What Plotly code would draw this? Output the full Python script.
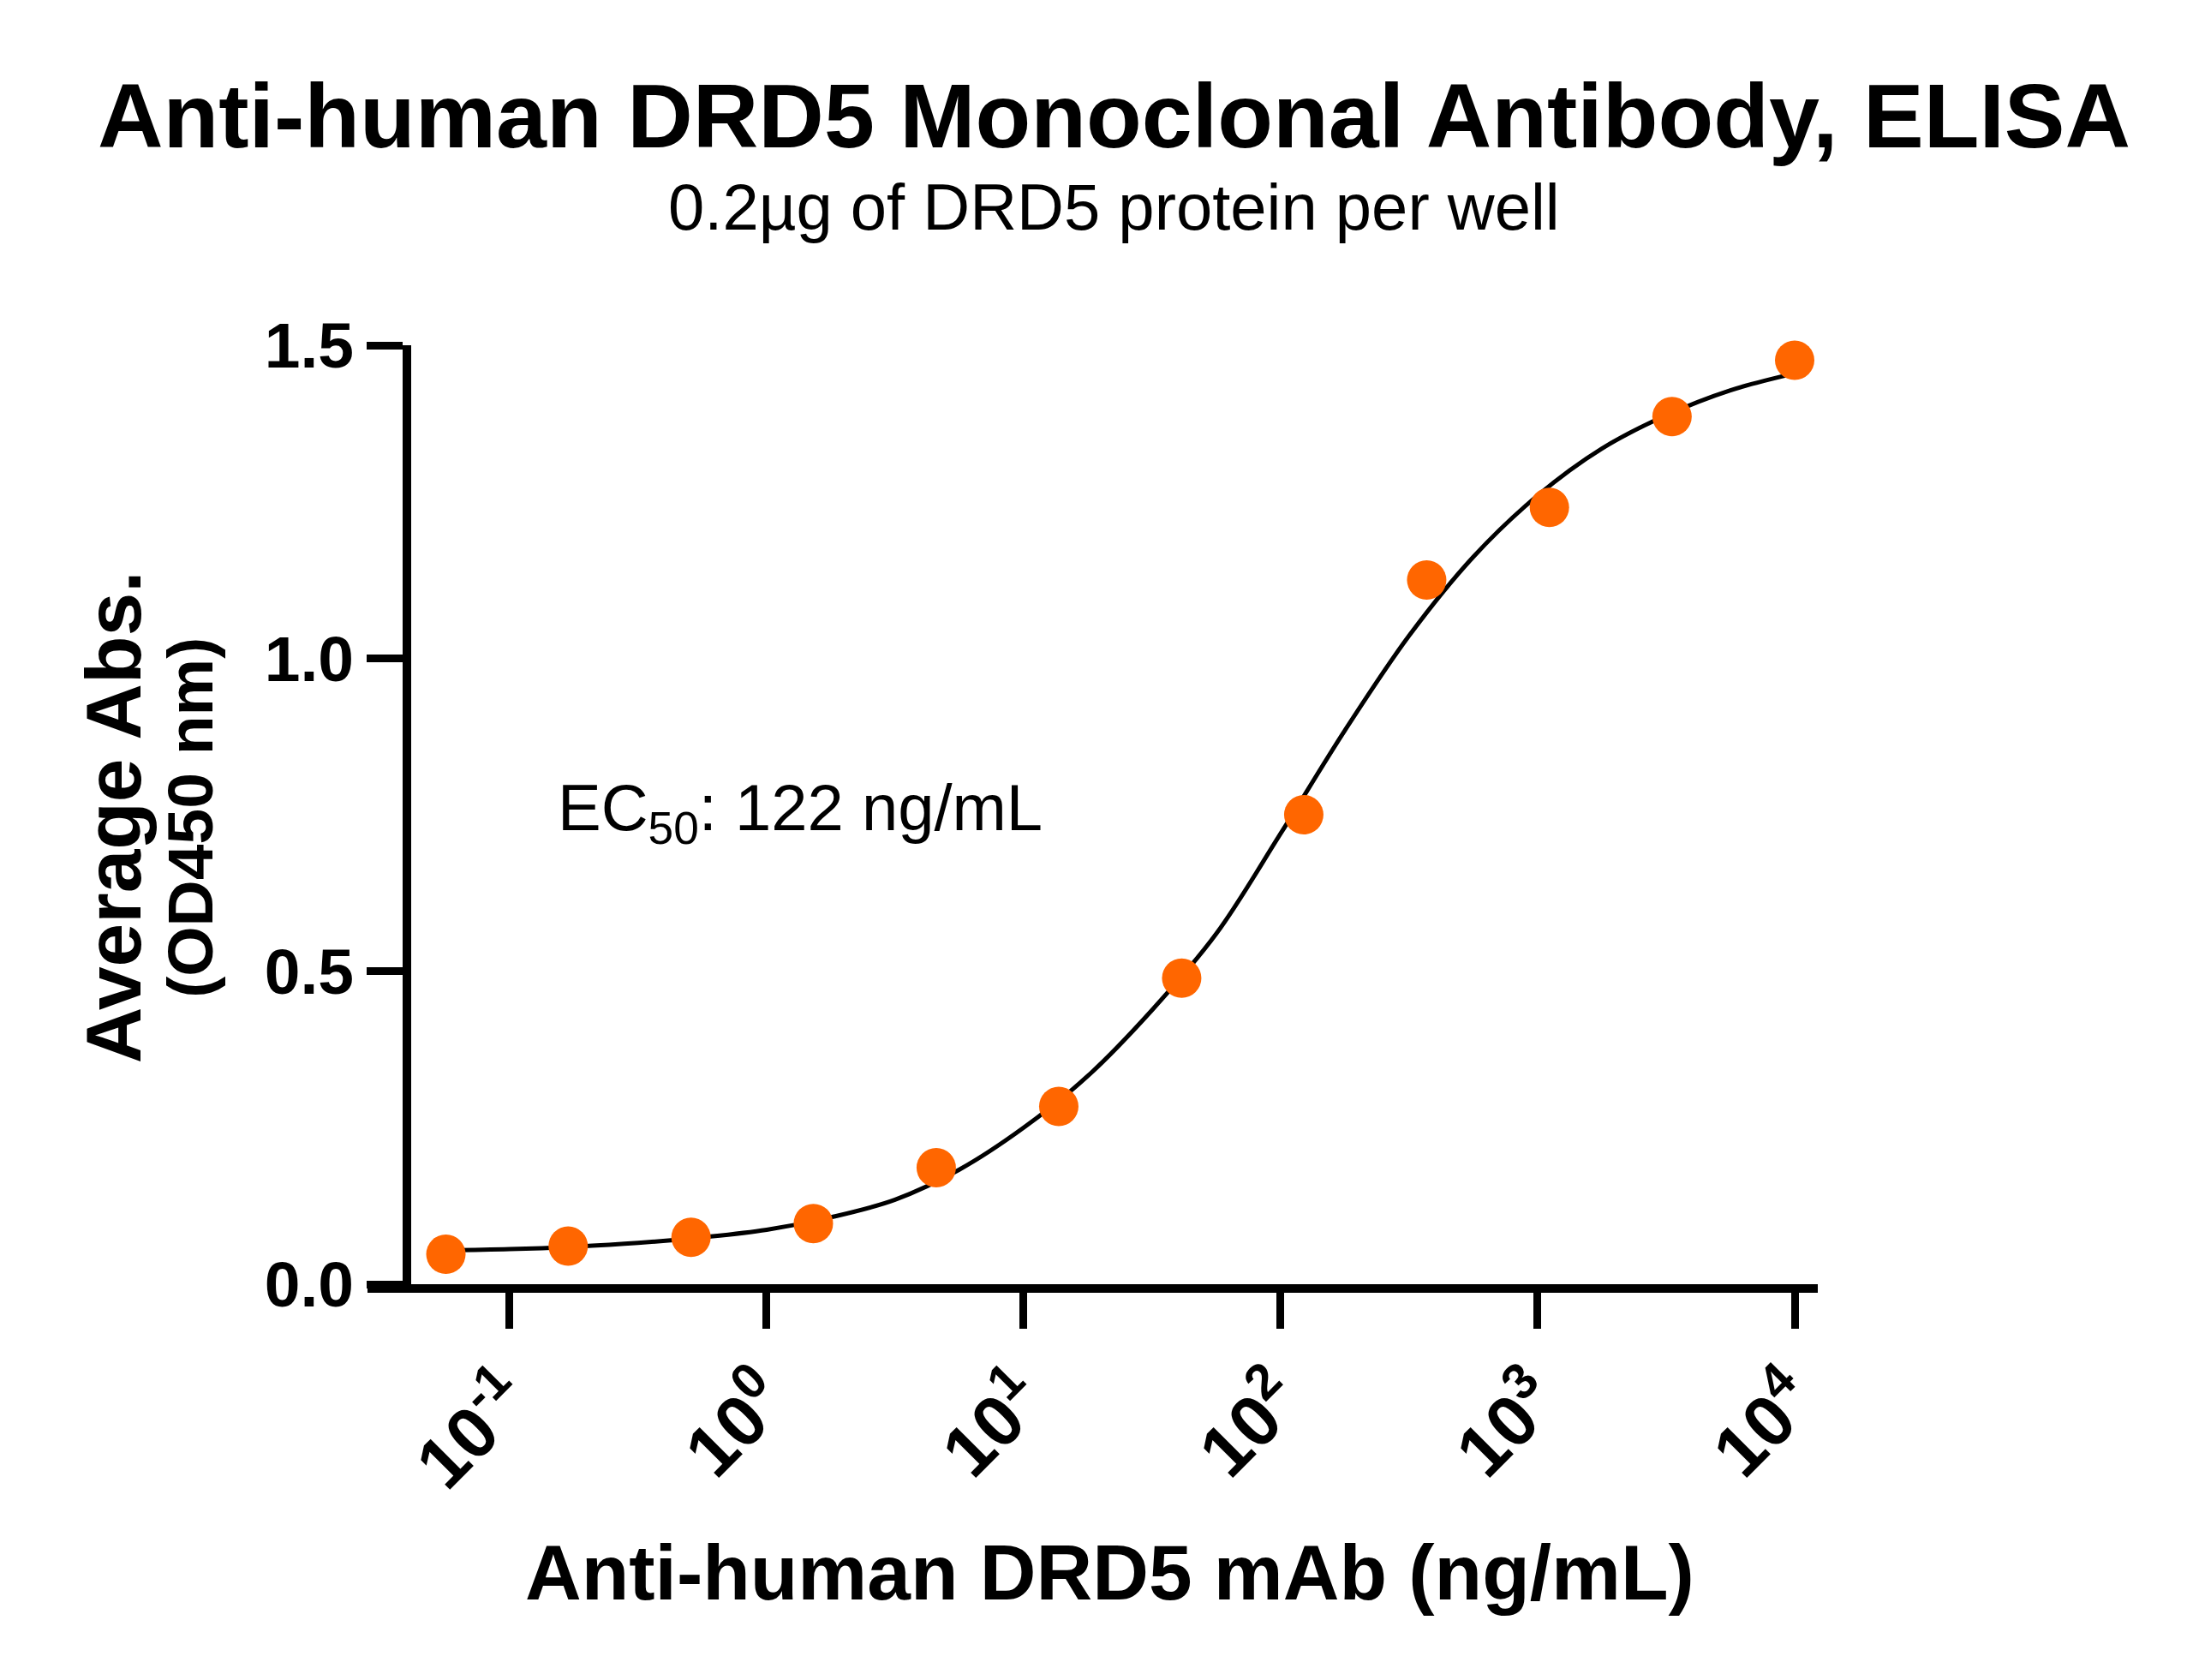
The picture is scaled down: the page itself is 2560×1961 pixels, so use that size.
"""DRD5 monoclonal antibody ELISA dose-response chart."""

import plotly.graph_objects as go

FONT = "Liberation Sans, Arial, Helvetica, sans-serif"
ORANGE = "#FF6600"

# measured points (ng/mL vs. OD450)
conc = [0.0565, 0.169, 0.508, 1.52, 4.57, 13.7, 41.2, 123, 370, 1111, 3333, 10000]
od450 = [0.048, 0.061, 0.075, 0.097, 0.186, 0.284, 0.489, 0.750, 1.125, 1.241, 1.386, 1.476]

# fitted curve
fit_conc = [0.0565, 0.1, 0.178, 0.316, 0.562, 1, 1.78, 3.16, 5.62, 10, 17.8,
            31.6, 56.2, 100, 178, 316, 562, 1000, 1778, 3162, 5623, 10000]
fit_od = [0.054, 0.056, 0.060, 0.066, 0.075, 0.087, 0.107, 0.135, 0.183, 0.250, 0.333,
          0.438, 0.560, 0.720, 0.885, 1.036, 1.162, 1.260, 1.335, 1.388, 1.428, 1.455]

x_tickvals = [0.1, 1, 10, 100, 1000, 10000]
x_ticktext = ["10<sup>-1</sup>", "10<sup>0</sup>", "10<sup>1</sup>",
              "10<sup>2</sup>", "10<sup>3</sup>", "10<sup>4</sup>"]
y_tickvals = [0.0, 0.5, 1.0, 1.5]
y_ticktext = ["0.0", "0.5", "1.0", "1.5"]

fig = go.Figure()
fig.add_trace(go.Scatter(
    x=fit_conc, y=fit_od, mode="lines",
    line=dict(color="black", width=5, shape="spline", smoothing=1.0),
    hoverinfo="skip", showlegend=False,
))
fig.add_trace(go.Scatter(
    x=conc, y=od450, mode="markers",
    marker=dict(color=ORANGE, size=46, line=dict(width=0)),
    cliponaxis=False, showlegend=False,
))

fig.update_xaxes(
    type="log", range=[-1.553, 4.09],
    tickvals=x_tickvals, ticktext=x_ticktext, tickangle=-45,
    tickfont=dict(family=FONT, size=84, color="black", weight="bold"),
    showline=True, linecolor="black", linewidth=10,
    ticks="outside", ticklen=42, tickwidth=9, tickcolor="black",
    showgrid=False, zeroline=False,
)
fig.update_yaxes(
    range=[0, 1.5], anchor="free", position=0.0272,
    tickvals=y_tickvals, ticktext=y_ticktext,
    tickfont=dict(family=FONT, size=75, color="black", weight="bold"),
    showline=True, linecolor="black", linewidth=10,
    ticks="outside", ticklen=42, tickwidth=9, tickcolor="black",
    showgrid=False, zeroline=False,
)

annotations = [
    dict(text="Anti-human DRD5 Monoclonal Antibody, ELISA", x=0.5145, y=1.2445,
         font=dict(family=FONT, size=106, color="black", weight="bold")),
    dict(text="0.2µg of DRD5 protein per well", x=0.5145, y=1.1478,
         font=dict(family=FONT, size=76, color="black")),
    dict(text="Anti-human DRD5 mAb (ng/mL)", x=0.5121, y=-0.307,
         font=dict(family=FONT, size=91, color="black", weight="bold")),
    dict(text="Average Abs.", x=-0.1754, y=0.497, textangle=-90,
         font=dict(family=FONT, size=91, color="black", weight="bold")),
    dict(text="(OD450 nm)", x=-0.122, y=0.497, textangle=-90,
         font=dict(family=FONT, size=75, color="black", weight="bold")),
    dict(text="EC<sub>50</sub>: 122 ng/mL", x=0.130, y=0.503, xanchor="left",
         font=dict(family=FONT, size=76, color="black")),
]
for a in annotations:
    a.setdefault("xanchor", "center")
    a.update(xref="paper", yref="paper", yanchor="middle", showarrow=False)

# the page adds an 8px body margin, so the plot box is pulled up/left by 8px
fig.update_layout(
    width=2560, height=1961,
    margin=dict(l=421, r=446, t=395, b=470),
    paper_bgcolor="white", plot_bgcolor="white",
    annotations=annotations, showlegend=False,
)

fig.write_html("out.html")
